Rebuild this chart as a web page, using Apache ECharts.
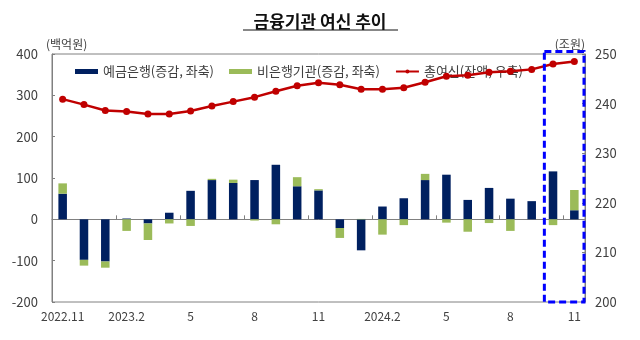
<!DOCTYPE html>
<html>
<head>
<meta charset="utf-8">
<script src="https://cdn.jsdelivr.net/npm/echarts@6/dist/echarts.min.js"></script>
<style>
  html, body { margin: 0; padding: 0; background: #fff; }
  #chart { width: 640px; height: 340px; }
</style>
</head>
<body>
<div id="chart"></div>
<script>
// Months from 2022.11 to 2024.11
const months = [
  '2022.11', '2022.12', '2023.1', '2023.2', '2023.3', '2023.4', '2023.5',
  '2023.6', '2023.7', '2023.8', '2023.9', '2023.10', '2023.11', '2023.12',
  '2024.1', '2024.2', '2024.3', '2024.4', '2024.5', '2024.6', '2024.7',
  '2024.8', '2024.9', '2024.10', '2024.11'
];
// Text shown under each month ('' = no label)
const monthLabels = [
  '2022.11', '', '', '2023.2', '', '', '5', '', '', '8', '', '', '11', '', '',
  '2024.2', '', '', '5', '', '', '8', '', '', '11'
];
// 예금은행 change (백억원)
const bankChange = [
  62, -98, -102, 2, -10, 16, 69, 95, 88, 95, 132, 80, 70, -21,
  -75, 31, 51, 95, 108, 47, 76, 50, 44, 116, 22
];
// 비은행기관 change (백억원)
const nonBankChange = [
  25, -14, -15, -28, -40, -10, -16, 3, 8, -3, -12, 22, 3, -24,
  1, -37, -14, 15, -8, -30, -9, -28, 0, -14, 49
];
// 총여신 balance (조원)
const totalCredit = [
  240.9, 239.8, 238.6, 238.4, 237.9, 237.9, 238.5, 239.5, 240.4, 241.3,
  242.5, 243.6, 244.2, 243.8, 242.9, 242.9, 243.2, 244.3, 245.5, 245.7,
  246.3, 246.5, 246.9, 248.0, 248.5
];
const leftTicks = { min: -200, max: 400, step: 100 };
const rightTicks = { min: 200, max: 250, step: 10 };
const highlightMonths = ['2024.10', '2024.11'];

const FONT = '"Noto Sans CJK KR", "Noto Sans", sans-serif';
const TEXT = '#404040';
const AXIS = '#808080';

const chart = echarts.init(document.getElementById('chart'), null, { renderer: 'canvas' });

const everyThird = (i) => i % 3 === 0;

chart.setOption({
  animation: false,
  textStyle: { fontFamily: FONT },
  title: {
    text: '금융기관 여신 추이',
    left: 'center',
    top: 8,
    textStyle: { fontFamily: FONT, fontSize: 17, fontWeight: 'bold', color: '#111' }
  },
  grid: {
    left: 52, right: 55, top: 54, bottom: 38,
    show: true, borderColor: AXIS, borderWidth: 1, backgroundColor: 'transparent'
  },
  legend: {
    top: 60, left: 70,
    itemWidth: 23, itemHeight: 5, itemGap: 15,
    textStyle: { fontFamily: FONT, fontSize: 13, color: TEXT },
    data: [
      { name: '예금은행(증감, 좌축)', icon: 'rect' },
      { name: '비은행기관(증감, 좌축)', icon: 'rect' },
      { name: '총여신(잔액, 우축)' }
    ]
  },
  xAxis: [
    {
      type: 'category',
      data: months,
      boundaryGap: true,
      axisLine: { onZero: true, lineStyle: { color: AXIS, width: 1 } },
      axisTick: { show: true, inside: true, length: 4, interval: everyThird, lineStyle: { color: AXIS } },
      axisLabel: { show: false },
      splitLine: { show: false }
    },
    {
      type: 'category',
      data: months,
      position: 'bottom',
      boundaryGap: true,
      axisLine: { show: false, onZero: false },
      axisTick: { show: false },
      axisLabel: {
        interval: 0, margin: 8,
        fontFamily: FONT, fontSize: 12, color: TEXT,
        formatter: (v, i) => monthLabels[i]
      },
      splitLine: { show: false }
    }
  ],
  yAxis: [
    {
      type: 'value',
      min: leftTicks.min, max: leftTicks.max, interval: leftTicks.step,
      name: '(백억원)', nameLocation: 'end', nameGap: 4,
      nameTextStyle: { fontFamily: FONT, fontSize: 12, color: TEXT, align: 'left', verticalAlign: 'bottom', padding: [0, 0, 0, -6] },
      axisLine: { show: true, lineStyle: { color: AXIS } },
      axisTick: { show: true, inside: true, length: 3, lineStyle: { color: AXIS } },
      axisLabel: { margin: 14, fontFamily: FONT, fontSize: 13, color: TEXT },
      splitLine: { show: false }
    },
    {
      type: 'value',
      position: 'right',
      min: rightTicks.min, max: rightTicks.max, interval: rightTicks.step,
      name: '(조원)', nameLocation: 'end', nameGap: 4,
      nameTextStyle: { fontFamily: FONT, fontSize: 12, color: TEXT, align: 'right', verticalAlign: 'bottom', padding: [0, 0, 0, 0] },
      axisLine: { show: true, lineStyle: { color: AXIS } },
      axisTick: { show: true, inside: true, length: 3, lineStyle: { color: AXIS } },
      axisLabel: { margin: 10, fontFamily: FONT, fontSize: 13, color: TEXT },
      splitLine: { show: false }
    }
  ],
  series: [
    {
      name: '예금은행(증감, 좌축)',
      type: 'bar',
      stack: 'change',
      xAxisIndex: 0, yAxisIndex: 0,
      barWidth: '40%',
      itemStyle: { color: '#002060' },
      data: bankChange
    },
    {
      name: '비은행기관(증감, 좌축)',
      type: 'bar',
      stack: 'change',
      xAxisIndex: 0, yAxisIndex: 0,
      barWidth: '40%',
      itemStyle: { color: '#9BBB59' },
      data: nonBankChange
    },
    {
      name: '총여신(잔액, 우축)',
      type: 'line',
      xAxisIndex: 0, yAxisIndex: 1,
      symbol: 'circle', symbolSize: 7,
      lineStyle: { color: '#C00000', width: 2.5 },
      itemStyle: { color: '#C00000' },
      data: totalCredit,
      z: 5
    }
  ]
});

// Dashed highlight box around the last two months, placed from the axis scales
function drawHighlight() {
  const xa = chart.convertToPixel({ xAxisIndex: 0 }, highlightMonths[0]);
  const xb = chart.convertToPixel({ xAxisIndex: 0 }, highlightMonths[1]);
  const half = (xb - xa) / 2;
  const yTop = chart.convertToPixel({ yAxisIndex: 0 }, leftTicks.max);
  const yBot = chart.convertToPixel({ yAxisIndex: 0 }, leftTicks.min);
  const titleY = 30;
  chart.setOption({
    graphic: [
      {
        type: 'rect',
        z: 100,
        shape: { x: xa - half + 2, y: yTop - 2.5, width: (xb + half - 1) - (xa - half + 2), height: yBot - yTop + 2.5 },
        style: { fill: 'none', stroke: '#0000FF', lineWidth: 3, lineDash: [7, 4] }
      },
      {
        type: 'line',
        shape: { x1: 243, y1: titleY, x2: 398, y2: titleY },
        style: { stroke: '#111', lineWidth: 1 }
      }
    ]
  });
}
drawHighlight();
</script>
</body>
</html>
